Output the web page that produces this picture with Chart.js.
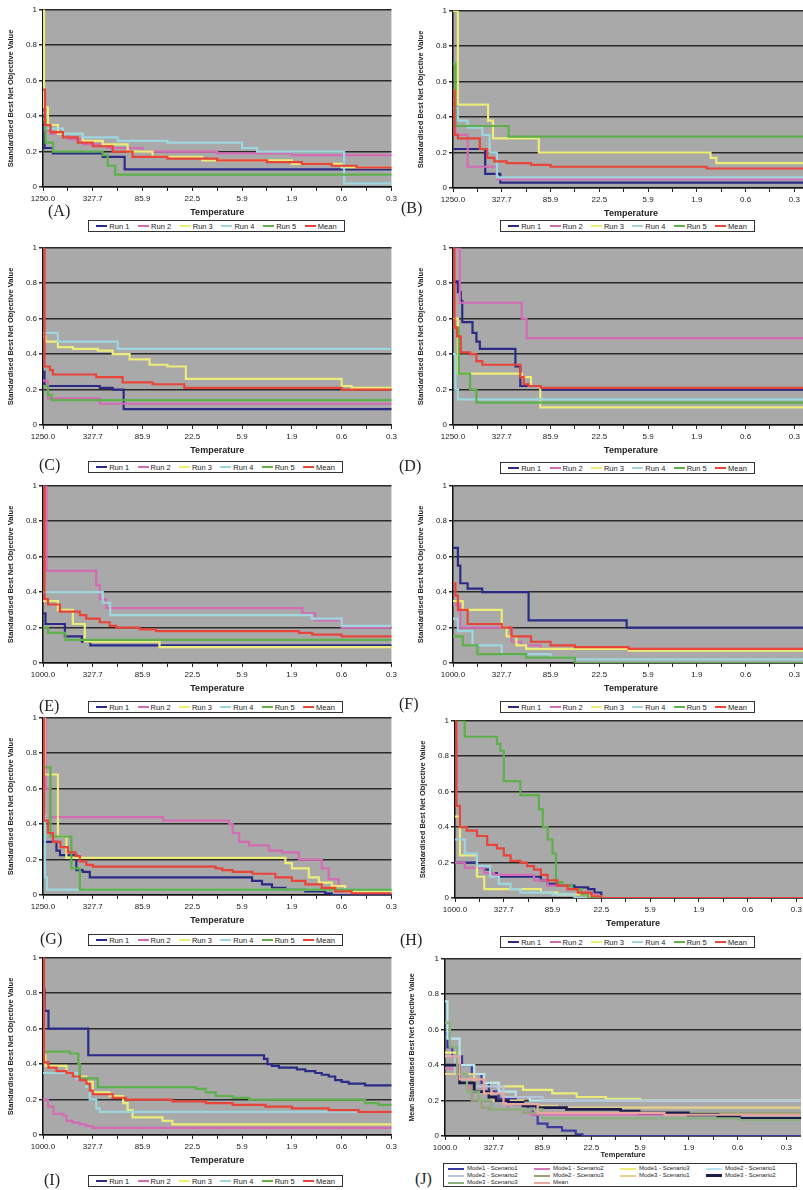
<!DOCTYPE html>
<html lang="en">
<head>
<meta charset="UTF-8">
<title>Standardised best net objective value vs temperature</title>
<script src="https://cdn.jsdelivr.net/npm/chart.js@4.4.0/dist/chart.umd.min.js"></script>
<style>
  body { margin: 0; width: 803px; height: 1190px; overflow: hidden; position: relative; background: #fff; font-family: Arial, "Liberation Sans", sans-serif; }
  .panel { position: absolute; }
  .tag { position: absolute; font-family: "Liberation Serif", "Times New Roman", serif; font-size: 16px; color: #222; line-height: 16px; }
  .legend { position: absolute; border: 1px solid #333; background: #fff; display: flex; justify-content: space-around; align-items: center; height: 12px; font-size: 7.5px; color: #222; box-sizing: border-box; padding: 0 3px; }
  .legend span { display: inline-flex; align-items: center; white-space: nowrap; }
  .legend i { display: inline-block; width: 11px; height: 2px; margin-right: 2px; }
  .legendJ { position: absolute; border: 1px solid #333; background: #fff; display: grid; grid-template-columns: repeat(4, 1fr); font-size: 6px; color: #222; box-sizing: border-box; padding: 1px 4px; line-height: 7px; }
  .legendJ span { display: inline-flex; align-items: center; white-space: nowrap; }
  .legendJ i { display: inline-block; width: 16px; height: 2px; margin-right: 3px; }
</style>
</head>
<body>
<script>
// tick labels (temperature)
const temps1250 = ['1250.0', '327.7', '85.9', '22.5', '5.9', '1.9', '0.6', '0.3'];
const temps1000 = ['1000.0', '327.7', '85.9', '22.5', '5.9', '1.9', '0.6', '0.3'];
const runNames = ['Run 1', 'Run 2', 'Run 3', 'Run 4', 'Run 5', 'Mean'];
const runColors = ['#2b2b86', '#d46cb4', '#ecec78', '#9ed6e0', '#5db04b', '#e8443a'];

// series: [position along temperature axis (label index), standardised value]
const A_run1 = [[0,0.35],[0.03,0.22],[0.2,0.19],[1.2,0.17],[1.64,0.1],[7.4,0.1]];
const A_run2 = [[0,0.5],[0.04,0.32],[0.15,0.3],[0.5,0.27],[0.8,0.24],[1.3,0.22],[2,0.2],[3.5,0.19],[5,0.18],[7.4,0.18]];
const A_run3 = [[0,1],[0.02,0.45],[0.1,0.35],[0.3,0.3],[0.8,0.26],[1.2,0.24],[1.7,0.2],[2.2,0.17],[3.2,0.15],[5,0.13],[6,0.11],[7.4,0.1]];
const A_run4 = [[0,0.42],[0.05,0.33],[0.4,0.3],[0.8,0.28],[1.5,0.26],[2.5,0.25],[4,0.22],[4.3,0.2],[6,0.2],[6.05,0.02],[7.4,0.02]];
const A_run5 = [[0,0.38],[0.05,0.25],[0.2,0.2],[1.2,0.18],[1.3,0.12],[1.45,0.07],[7.4,0.07]];
const A_mean = [[0,0.55],[0.04,0.35],[0.15,0.31],[0.4,0.28],[0.7,0.25],[1,0.23],[1.4,0.2],[1.8,0.17],[2.5,0.16],[3.5,0.15],[4.5,0.14],[5.2,0.13],[5.8,0.12],[6.3,0.11],[7.4,0.1]];

const B_run1 = [[0,0.22],[0.66,0.08],[0.97,0.03],[7.4,0.03]];
const B_run2 = [[0,0.5],[0.05,0.3],[0.3,0.12],[0.9,0.05],[7.4,0.05]];
const B_run3 = [[0,1],[0.1,0.47],[0.72,0.38],[0.82,0.28],[1.76,0.2],[5.28,0.17],[5.4,0.14],[7.4,0.14]];
const B_run4 = [[0,0.45],[0.1,0.38],[0.3,0.34],[0.6,0.3],[0.75,0.2],[0.9,0.06],[7.4,0.06]];
const B_run5 = [[0,0.7],[0.05,0.35],[1.14,0.29],[7.4,0.29]];
const B_mean = [[0,0.55],[0.03,0.3],[0.1,0.28],[0.55,0.22],[0.7,0.17],[0.85,0.15],[1.1,0.14],[1.6,0.13],[2,0.12],[5.2,0.11],[7.4,0.11]];

const C_run1 = [[0,0.3],[0.03,0.22],[1.14,0.21],[1.4,0.2],[1.62,0.09],[7.4,0.09]];
const C_run2 = [[0,0.25],[0.1,0.15],[1.14,0.12],[7.4,0.12]];
const C_run3 = [[0,0.5],[0.05,0.47],[0.3,0.44],[0.6,0.43],[1.1,0.42],[1.4,0.4],[1.74,0.37],[2.14,0.34],[2.5,0.33],[2.87,0.26],[6,0.22],[6.2,0.21],[7.4,0.21]];
const C_run4 = [[0,0.52],[0.3,0.47],[1.5,0.43],[7.4,0.43]];
const C_run5 = [[0,0.22],[0.1,0.17],[0.17,0.14],[7.4,0.14]];
const C_mean = [[0,1],[0.03,0.33],[0.14,0.31],[0.2,0.285],[1.07,0.27],[1.6,0.24],[2.2,0.23],[2.84,0.21],[6,0.2],[7.4,0.2]];

const D_run1 = [[0,0.81],[0.1,0.75],[0.16,0.7],[0.19,0.58],[0.4,0.52],[0.48,0.47],[0.55,0.43],[1.28,0.33],[1.38,0.22],[1.8,0.2],[7.4,0.2]];
const D_run2 = [[0,1],[0.14,0.69],[1.41,0.6],[1.51,0.49],[7.4,0.49]];
const D_run3 = [[0,0.6],[0.1,0.29],[1.41,0.27],[1.6,0.22],[1.79,0.1],[7.4,0.1]];
const D_run4 = [[0,0.4],[0.05,0.2],[0.1,0.145],[7.4,0.145]];
const D_run5 = [[0,0.55],[0.12,0.29],[0.35,0.2],[0.48,0.126],[7.4,0.126]];
const D_mean = [[0,1],[0.03,0.55],[0.08,0.5],[0.16,0.41],[0.35,0.4],[0.48,0.36],[0.6,0.34],[1.38,0.27],[1.45,0.23],[1.55,0.22],[1.8,0.21],[7.4,0.21]];

const E_run1 = [[0,0.28],[0.05,0.22],[0.44,0.15],[0.78,0.12],[0.95,0.1],[7.4,0.1]];
const E_run2 = [[0,1],[0.07,0.52],[1.07,0.44],[1.14,0.36],[1.27,0.31],[5.21,0.28],[5.47,0.24],[6,0.2],[7.4,0.2]];
const E_run3 = [[0,0.35],[0.3,0.3],[0.6,0.22],[0.84,0.12],[2.34,0.09],[7.4,0.09]];
const E_run4 = [[0,0.4],[1.2,0.34],[1.35,0.27],[5.4,0.25],[6,0.21],[7.4,0.21]];
const E_run5 = [[0,0.2],[0.1,0.17],[0.45,0.13],[7.4,0.13]];
const E_mean = [[0,1],[0.03,0.36],[0.1,0.33],[0.34,0.29],[0.74,0.27],[0.87,0.25],[1.14,0.23],[1.34,0.21],[1.47,0.2],[1.94,0.19],[2.27,0.18],[5.14,0.17],[5.41,0.16],[6,0.15],[7.4,0.15]];

const F_run1 = [[0,0.65],[0.1,0.55],[0.15,0.45],[0.3,0.42],[0.6,0.4],[1.55,0.24],[3.56,0.2],[7.4,0.2]];
const F_run2 = [[0,0.33],[0.15,0.2],[1.2,0.12],[1.4,0.1],[1.8,0.08],[7.4,0.08]];
const F_run3 = [[0,0.35],[0.2,0.3],[1,0.2],[1.1,0.15],[1.3,0.1],[1.5,0.08],[3.6,0.07],[7.4,0.07]];
const F_run4 = [[0,0.25],[0.1,0.18],[0.4,0.1],[1,0.05],[2,0.03],[2.5,0.02],[7.4,0.02]];
const F_run5 = [[0,0.15],[0.2,0.1],[0.5,0.05],[1.5,0.03],[2.5,0],[7.4,0]];
const F_mean = [[0,0.45],[0.05,0.38],[0.1,0.3],[0.3,0.22],[1,0.2],[1.2,0.15],[1.6,0.12],[2,0.1],[2.5,0.09],[3.6,0.08],[7.4,0.08]];

const G_run1 = [[0,0.3],[0.27,0.25],[0.34,0.225],[0.67,0.14],[0.8,0.13],[0.94,0.1],[4.2,0.08],[4.4,0.06],[4.6,0.04],[4.87,0.03],[5.27,0.02],[5.67,0.01],[5.8,0],[7.4,0]];
const G_run2 = [[0,1],[0.05,0.6],[0.14,0.44],[2.41,0.42],[3.74,0.4],[3.81,0.35],[3.94,0.3],[4.14,0.28],[4.54,0.25],[4.8,0.24],[5.14,0.2],[5.6,0.15],[5.74,0.09],[5.94,0.05],[6.07,0.02],[7.4,0.02]];
const G_run3 = [[0,1],[0.03,0.68],[0.3,0.33],[0.47,0.21],[4.87,0.18],[5,0.15],[5.34,0.1],[5.54,0.07],[5.8,0.05],[6.07,0.02],[7.4,0.02]];
const G_run4 = [[0,0.45],[0.04,0.1],[0.08,0.03],[7.4,0.03]];
const G_run5 = [[0,0.72],[0.15,0.33],[0.57,0.15],[0.74,0.03],[7.4,0.03]];
const G_mean = [[0,1],[0.02,0.42],[0.1,0.35],[0.2,0.3],[0.35,0.27],[0.5,0.24],[0.65,0.22],[0.74,0.19],[0.87,0.17],[1,0.16],[3.47,0.15],[3.6,0.14],[3.81,0.13],[4.21,0.12],[4.67,0.1],[5,0.08],[5.27,0.06],[5.6,0.04],[5.87,0.02],[6.2,0.01],[7.4,0.01]];

const H_run1 = [[0,0.2],[0.45,0.18],[0.6,0.16],[0.72,0.14],[0.86,0.12],[1.76,0.1],[1.9,0.08],[2.1,0.07],[2.45,0.06],[2.73,0.05],[2.86,0.03],[3,0],[7.4,0]];
const H_run2 = [[0,0.2],[0.2,0.17],[0.6,0.14],[0.8,0.13],[1.62,0.1],[1.9,0.07],[2.31,0.05],[2.52,0.03],[2.73,0.02],[2.93,0],[7.4,0]];
const H_run3 = [[0,0.46],[0.1,0.24],[0.45,0.12],[0.6,0.05],[1.76,0.03],[2.1,0.02],[2.73,0.01],[3,0],[7.4,0]];
const H_run4 = [[0,0.33],[0.2,0.25],[0.45,0.18],[0.72,0.12],[0.9,0.08],[1.14,0.05],[1.34,0.03],[2,0.02],[2.45,0],[7.4,0]];
const H_run5 = [[0,1],[0.2,0.91],[0.86,0.87],[0.93,0.83],[1,0.66],[1.34,0.58],[1.72,0.5],[1.8,0.4],[1.9,0.33],[2,0.25],[2.07,0.09],[2.2,0.07],[2.4,0.05],[2.59,0.02],[2.73,0],[7.4,0]];
const H_mean = [[0,1],[0.03,0.52],[0.1,0.4],[0.24,0.38],[0.45,0.35],[0.66,0.3],[0.86,0.28],[1,0.24],[1.14,0.21],[1.34,0.2],[1.48,0.18],[1.62,0.16],[1.76,0.13],[1.9,0.1],[2.1,0.07],[2.31,0.05],[2.52,0.03],[2.8,0.01],[3,0],[7.4,0]];

const I_run1 = [[0,0.82],[0.03,0.7],[0.11,0.6],[0.91,0.45],[4.44,0.43],[4.51,0.4],[4.6,0.39],[4.74,0.38],[5.1,0.37],[5.27,0.36],[5.47,0.35],[5.6,0.34],[5.74,0.33],[5.87,0.31],[6,0.3],[6.14,0.29],[6.47,0.28],[7.4,0.28]];
const I_run2 = [[0,0.2],[0.1,0.16],[0.21,0.12],[0.41,0.11],[0.47,0.08],[0.6,0.07],[0.74,0.06],[0.87,0.05],[1,0.04],[7.4,0.04]];
const I_run3 = [[0,0.45],[0.05,0.39],[0.47,0.35],[0.67,0.33],[0.87,0.3],[1,0.24],[1.34,0.22],[1.61,0.18],[1.7,0.14],[1.8,0.1],[2.4,0.08],[2.6,0.06],[7.4,0.06]];
const I_run4 = [[0,0.35],[0.67,0.32],[0.87,0.27],[0.94,0.2],[1.07,0.15],[1.14,0.13],[7.4,0.13]];
const I_run5 = [[0,0.47],[0.54,0.46],[0.71,0.4],[0.74,0.32],[1.1,0.27],[3.07,0.26],[3.27,0.24],[3.47,0.22],[3.81,0.21],[4.14,0.2],[6.47,0.18],[6.74,0.17],[7.4,0.17]];
const I_mean = [[0,1],[0.02,0.41],[0.11,0.38],[0.27,0.36],[0.47,0.35],[0.6,0.33],[0.74,0.31],[0.87,0.29],[0.94,0.25],[1,0.23],[1.4,0.21],[1.67,0.2],[2.6,0.19],[3.27,0.18],[3.81,0.17],[4.47,0.16],[5,0.15],[5.74,0.14],[6.34,0.13],[7.4,0.13]];

const J_names = ['Mode1 - Scenario1', 'Mode1 - Scenario2', 'Mode1 - Scenario3', 'Mode2 - Scenario1',
                 'Mode2 - Scenario2', 'Mode2 - Scenario3', 'Mode3 - Scenario1', 'Mode3 - Scenario2',
                 'Mode3 - Scenario3', 'Mean'];
const J_colors = ['#3a3aa0', '#d878b8', '#ecec78', '#b8e4ec', '#b8c4d8', '#9aa078', '#e8d08c', '#1c1c4c', '#8cb080', '#e8a8a0'];
const J_s1 = [[0,0.58],[0.05,0.5],[0.15,0.45],[0.35,0.4],[0.55,0.35],[0.75,0.3],[0.9,0.25],[1.1,0.21],[1.45,0.18],[1.7,0.15],[1.8,0.12],[1.9,0.07],[2.1,0.05],[2.4,0.03],[2.68,0.01],[2.82,0],[7.4,0]];
const J_s2 = [[0,0.38],[0.3,0.3],[0.5,0.25],[0.95,0.2],[1.3,0.15],[1.74,0.12],[7.4,0.12]];
const J_s3 = [[0,0.47],[0.3,0.35],[0.8,0.3],[1.1,0.28],[1.6,0.26],[2.2,0.24],[2.7,0.22],[3.3,0.21],[4,0.2],[7.4,0.2]];
const J_s4 = [[0,0.76],[0.05,0.55],[0.3,0.4],[0.6,0.35],[0.8,0.3],[1.1,0.25],[1.45,0.22],[1.74,0.2],[7.4,0.2]];
const J_s5 = [[0,0.45],[0.2,0.35],[0.6,0.28],[1.2,0.22],[2,0.2],[7.4,0.19]];
const J_s6 = [[0,0.4],[0.3,0.3],[0.55,0.2],[0.75,0.16],[0.9,0.15],[1.6,0.13],[7.4,0.13]];
const J_s7 = [[0,0.35],[0.6,0.25],[0.95,0.2],[1.6,0.17],[2.3,0.16],[7.4,0.16]];
const J_s8 = [[0,0.4],[0.3,0.3],[0.6,0.25],[0.9,0.22],[1.05,0.2],[1.3,0.19],[1.6,0.17],[1.88,0.16],[2.49,0.15],[3.6,0.14],[3.98,0.13],[4.99,0.12],[5.6,0.11],[6.04,0.1],[7.4,0.1]];
const J_s9 = [[0,0.64],[0.1,0.5],[0.25,0.35],[0.45,0.25],[0.7,0.2],[0.95,0.15],[2,0.1],[6.04,0.09],[7.4,0.09]];
const J_mean = [[0,0.45],[0.3,0.32],[0.8,0.24],[1.2,0.18],[1.9,0.13],[4.5,0.12],[7.4,0.12]];

const yTitle = 'Standardised Best Net Objective Value';
const yTitleJ = 'Mean Standardised Best Net Objective Value';

Chart.defaults.font.family = 'Arial, "Liberation Sans", sans-serif';

const plotBg = {
  id: 'plotBg',
  beforeDraw(chart) {
    const { ctx, chartArea: a } = chart;
    ctx.save();
    ctx.fillStyle = '#a9a9a9';
    ctx.fillRect(a.left, a.top, a.right - a.left, a.bottom - a.top);
    ctx.restore();
  }
};

// left: panel in the left column (plot ends inside the page)
const panels = [
  { tag: '(A)', plotLeft: 43, top: 9, left: true, temps: temps1250, series: [A_run1, A_run2, A_run3, A_run4, A_run5, A_mean], tagPos: [48, 203], legend: [88, 220, 257] },
  { tag: '(B)', plotLeft: 453, top: 10, temps: temps1250, series: [B_run1, B_run2, B_run3, B_run4, B_run5, B_mean], tagPos: [401, 200], legend: [500, 220, 255] },
  { tag: '(C)', plotLeft: 43, top: 247, left: true, temps: temps1250, series: [C_run1, C_run2, C_run3, C_run4, C_run5, C_mean], tagPos: [39, 457], legend: [88, 461, 255] },
  { tag: '(D)', plotLeft: 453, top: 247, temps: temps1250, series: [D_run1, D_run2, D_run3, D_run4, D_run5, D_mean], tagPos: [399, 458], legend: [500, 462, 255] },
  { tag: '(E)', plotLeft: 43, top: 485, left: true, temps: temps1000, series: [E_run1, E_run2, E_run3, E_run4, E_run5, E_mean], tagPos: [39, 698], legend: [88, 701, 255] },
  { tag: '(F)', plotLeft: 453, top: 485, temps: temps1000, series: [F_run1, F_run2, F_run3, F_run4, F_run5, F_mean], tagPos: [399, 696], legend: [500, 701, 255] },
  { tag: '(G)', plotLeft: 43, top: 717, left: true, temps: temps1250, series: [G_run1, G_run2, G_run3, G_run4, G_run5, G_mean], tagPos: [40, 931], legend: [88, 934, 255] },
  { tag: '(H)', plotLeft: 455, top: 720, temps: temps1000, series: [H_run1, H_run2, H_run3, H_run4, H_run5, H_mean], tagPos: [400, 932], legend: [500, 936, 255] },
  { tag: '(I)', plotLeft: 43, top: 957, left: true, temps: temps1000, series: [I_run1, I_run2, I_run3, I_run4, I_run5, I_mean], tagPos: [44, 1172], legend: [88, 1175, 255] },
  { tag: '(J)', plotLeft: 445, top: 958, temps: temps1000, series: [J_s1, J_s2, J_s3, J_s4, J_s5, J_s6, J_s7, J_s8, J_s9, J_mean], tagPos: [415, 1171], j: true }
];

function buildPanel(p) {
  const padTop = 6, plotH = 178, yW = 43;
  const xH = p.j ? 24 : 34;
  const w = p.left ? yW + 349 + 8 : yW + 356;
  const h = padTop + plotH + xH;
  const div = document.createElement('div');
  div.className = 'panel';
  div.style.left = (p.plotLeft - yW) + 'px';
  div.style.top = (p.top - padTop) + 'px';
  const canvas = document.createElement('canvas');
  canvas.width = w; canvas.height = h;
  canvas.style.width = w + 'px'; canvas.style.height = h + 'px';
  div.appendChild(canvas);
  document.body.appendChild(div);

  const names = p.j ? J_names : runNames;
  const colors = p.j ? J_colors : runColors;
  // later series are drawn on top, as in the original spreadsheet chart
  const datasets = p.series.map((s, i) => ({
    label: names[i],
    data: s.map(([x, y]) => ({ x, y })),
    borderColor: colors[i],
    borderWidth: (p.j && i === 7) ? 2.8 : 2.2,
    stepped: 'before',
    pointRadius: 0,
    fill: false,
    order: p.series.length - i
  }));

  new Chart(canvas.getContext('2d'), {
    type: 'line',
    data: { datasets },
    plugins: [plotBg],
    options: {
      responsive: false,
      animation: false,
      devicePixelRatio: 1,
      layout: { padding: { top: padTop, right: p.left ? 8 : 0, left: 0, bottom: 0 } },
      plugins: { legend: { display: false }, tooltip: { enabled: false } },
      scales: {
        x: {
          type: 'linear', min: 0, max: p.left ? 7 : 7.3,
          afterFit: s => { s.height = xH; },
          afterBuildTicks: s => { s.ticks = Array.from({ length: 15 }, (_, k) => ({ value: k / 2 })); },
          ticks: {
            autoSkip: false, maxRotation: 0, padding: 3, color: '#222', font: { size: 8 },
            callback: v => Number.isInteger(v) ? p.temps[v] : ''
          },
          grid: { drawOnChartArea: false, drawTicks: true, tickLength: 4, color: '#222', lineWidth: 1 },
          border: { display: true, color: '#111', width: 1.5 },
          title: { display: true, text: 'Temperature', color: '#222', font: { size: p.j ? 7.5 : 9, weight: 'bold' }, padding: { top: 0, bottom: p.j ? 1 : 3 } }
        },
        y: {
          min: 0, max: 1,
          afterFit: s => { s.width = yW; },
          ticks: {
            stepSize: 0.2, padding: 2, color: '#222', font: { size: 8 },
            callback: v => (Math.abs(v) < 1e-6 ? '0' : Math.abs(v - 1) < 1e-6 ? '1' : v.toFixed(1))
          },
          grid: { color: '#2a2a2a', lineWidth: 1.5, drawTicks: true, tickLength: 4 },
          border: { display: true, color: '#111', width: 1.5 },
          title: { display: true, text: p.j ? yTitleJ : yTitle, color: '#222', font: { size: p.j ? 7 : 7.5, weight: 'bold' }, padding: { top: 6, bottom: 0 } }
        }
      }
    }
  });

  const tag = document.createElement('div');
  tag.className = 'tag';
  tag.textContent = p.tag;
  tag.style.left = p.tagPos[0] + 'px';
  tag.style.top = p.tagPos[1] + 'px';
  document.body.appendChild(tag);

  const lg = document.createElement('div');
  if (p.j) {
    lg.className = 'legendJ';
    lg.style.left = '443px'; lg.style.top = '1163px'; lg.style.width = '354px'; lg.style.height = '24px';
  } else {
    lg.className = 'legend';
    lg.style.left = p.legend[0] + 'px'; lg.style.top = p.legend[1] + 'px'; lg.style.width = p.legend[2] + 'px';
  }
  names.forEach((n, i) => {
    const it = document.createElement('span');
    const sw = document.createElement('i');
    sw.style.background = colors[i];
    if (p.j && i === 7) sw.style.height = '3px';
    it.appendChild(sw);
    it.appendChild(document.createTextNode(n));
    lg.appendChild(it);
  });
  document.body.appendChild(lg);
}

panels.forEach(buildPanel);
</script>
</body>
</html>
